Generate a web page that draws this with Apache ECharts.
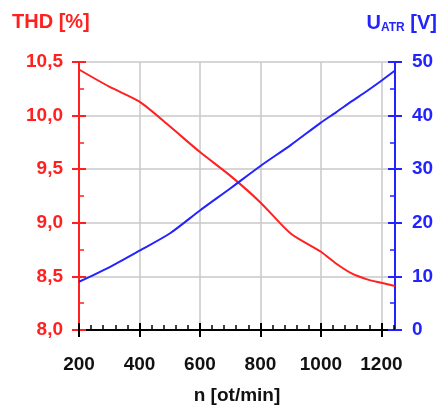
<!DOCTYPE html>
<html>
<head>
<meta charset="utf-8">
<script src="https://cdn.jsdelivr.net/npm/echarts@6/dist/echarts.min.js"></script>
<style>
  html, body { margin: 0; padding: 0; background: #fff; }
  #chart { width: 443px; height: 405px; }
</style>
</head>
<body>
<div id="chart"></div>
<script>
  // speed n [ot/min]
  var speed = [200, 300, 400, 500, 600, 700, 800, 900, 1000, 1050, 1100, 1150, 1200, 1245];
  // THD [%]
  var thd = [10.43, 10.27, 10.13, 9.90, 9.66, 9.44, 9.19, 8.90, 8.73, 8.62, 8.53, 8.475, 8.44, 8.41];
  // U_ATR [V]
  var uAtr = [9.0, 11.7, 14.8, 18.0, 22.3, 26.4, 30.6, 34.5, 38.7, 40.6, 42.6, 44.5, 46.5, 48.4];
  var xMajor = [200, 400, 600, 800, 1000, 1200];
  var xMinor = [240, 280, 320, 360, 440, 480, 520, 560, 640, 680, 720, 760,
                840, 880, 920, 960, 1040, 1080, 1120, 1160, 1240];

  var FONT = 'Liberation Sans, Arial, sans-serif';
  var RED = '#ff2020';
  var BLUE = '#2323ff';
  var GRID = '#c8c8c8';

  function pairs(ys) {
    return speed.map(function (x, i) { return [x, ys[i]]; });
  }

  //  common x axis settings (3 copies: labels/outer ticks, inner major, inner minor)
  function xAxis(extra) {
    var base = {
      type: 'value', min: 200, max: 1245, interval: 200, position: 'bottom',
      axisLine: { show: false },
      axisTick: { show: false },
      axisLabel: { show: false },
      splitLine: { show: false }
    };
    for (var k in extra) base[k] = extra[k];
    return base;
  }

  function yAxis(extra) {
    var base = {
      type: 'value',
      axisLine: { show: false },
      axisTick: { show: false },
      axisLabel: { show: false },
      splitLine: { show: false }
    };
    for (var k in extra) base[k] = extra[k];
    return base;
  }

  var chart = echarts.init(document.getElementById('chart'));
  chart.setOption({
    animation: false,
    backgroundColor: '#fff',
    title: [{
      text: 'THD [%]', left: 12, top: 12, padding: 0,
      textStyle: { color: RED, fontFamily: FONT, fontSize: 20, fontWeight: 'bold' }
    }, {
      text: '{a|U}{b|ATR}{a| [V]}', right: 6, top: 12, padding: 0,
      textStyle: {
        rich: {
          a: { color: BLUE, fontFamily: FONT, fontSize: 20, fontWeight: 'bold' },
          b: { color: BLUE, fontFamily: FONT, fontSize: 12, fontWeight: 'bold', padding: [10, 0, 0, 0] }
        }
      }
    }],
    grid: { left: 79, right: 48, top: 62, bottom: 75, containLabel: false, outerBoundsMode: 'none' },
    xAxis: [
      xAxis({
        name: 'n [ot/min]', nameLocation: 'middle', nameGap: 56,
        nameTextStyle: { color: '#111', fontFamily: FONT, fontSize: 19, fontWeight: 'bold' },
        axisLine: { show: true, onZero: false, lineStyle: { color: '#000', width: 2 } },
        axisTick: { show: true, length: 7, customValues: xMajor, lineStyle: { color: '#000', width: 2 } },
        axisLabel: {
          show: true, margin: 25, customValues: xMajor,
          color: '#111', fontFamily: FONT, fontSize: 19, fontWeight: 'bold',
          formatter: function (v) { return String(v); }
        },
        splitLine: { show: true, lineStyle: { color: GRID, width: 1.5 } }
      }),
      xAxis({
        axisTick: { show: true, inside: true, length: 7, customValues: xMajor, lineStyle: { color: '#000', width: 2 } }
      }),
      xAxis({
        axisTick: { show: true, inside: true, length: 5, customValues: xMinor, lineStyle: { color: '#000', width: 1.5 } }
      })
    ],
    yAxis: [
      yAxis({
        min: 8, max: 10.5, interval: 0.5, position: 'left',
        axisLine: { show: true, lineStyle: { color: RED, width: 2 } },
        axisTick: { show: true, length: 7, lineStyle: { color: RED, width: 2 } },
        axisLabel: {
          show: true, margin: 16, color: RED, fontFamily: FONT, fontSize: 19, fontWeight: 'bold',
          formatter: function (v) { return v.toFixed(1).replace('.', ','); }
        },
        splitLine: { show: true, lineStyle: { color: GRID, width: 1.5 } }
      }),
      yAxis({
        min: 8, max: 10.5, interval: 0.5, position: 'left',
        axisTick: { show: true, inside: true, length: 7, lineStyle: { color: RED, width: 2 } },
        minorTick: { show: true, splitNumber: 2, length: 5, lineStyle: { color: RED, width: 1.5 } }
      }),
      yAxis({
        min: 0, max: 50, interval: 10, position: 'right',
        axisLine: { show: true, lineStyle: { color: BLUE, width: 2 } },
        axisTick: { show: true, length: 7, lineStyle: { color: BLUE, width: 2 } },
        axisLabel: {
          show: true, margin: 17, color: BLUE, fontFamily: FONT, fontSize: 19, fontWeight: 'bold'
        }
      }),
      yAxis({
        min: 0, max: 50, interval: 10, position: 'right',
        axisTick: { show: true, inside: true, length: 7, lineStyle: { color: BLUE, width: 2 } },
        minorTick: { show: true, splitNumber: 2, length: 5, lineStyle: { color: BLUE, width: 1.5 } }
      })
    ],
    series: [{
      name: 'THD', type: 'line', xAxisIndex: 0, yAxisIndex: 0,
      data: pairs(thd), smooth: 0.25, showSymbol: false,
      lineStyle: { color: RED, width: 2 }
    }, {
      name: 'U_ATR', type: 'line', xAxisIndex: 0, yAxisIndex: 2,
      data: pairs(uAtr), smooth: 0.25, showSymbol: false,
      lineStyle: { color: BLUE, width: 2 }
    }]
  });
</script>
</body>
</html>
